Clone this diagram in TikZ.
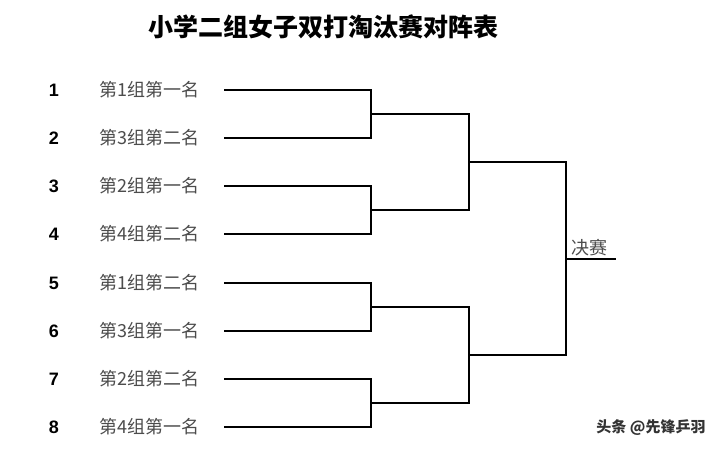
\documentclass[tikz,border=0pt]{standalone}
\usepackage{fontspec}
\newfontfamily\cjk{Noto Sans CJK SC}
\newfontfamily\numfont{Liberation Sans}
\begin{document}
\begin{tikzpicture}[x=1pt, y=-1pt, line width=1.1pt, every node/.style={inner sep=0pt}]
\useasboundingbox (0,0) rectangle (715,451);
\node (title) at (323,27) {\cjk\bfseries\fontsize{25}{25}\selectfont 小学二组女子双打淘汰赛对阵表};

% entrants
\foreach \n/\y/\t in {1/90/第1组第一名, 2/138/第3组第二名, 3/186/第2组第一名, 4/234/第4组第二名,
                      5/283/第1组第二名, 6/331/第3组第一名, 7/379/第2组第二名, 8/427/第4组第一名} {
  \node (num\n) at (54,\y) {\numfont\bfseries\fontsize{18}{18}\selectfont \n};
  \node (team\n) [anchor=west, text=black!70] at (99,\y) {\cjk\fontsize{18}{18}\selectfont \t};
  \coordinate (e\n) at (224,\y);
}

% junctions
\coordinate (q1) at (371,114);
\coordinate (q2) at (371,210);
\coordinate (q3) at (371,307);
\coordinate (q4) at (371,403);
\coordinate (h1) at (469,162);
\coordinate (h2) at (469,355);
\coordinate (fin) at (566,259);
\coordinate (champ) at (616,259);

\draw (e1) -| (q1) |- (e2);
\draw (e3) -| (q2) |- (e4);
\draw (e5) -| (q3) |- (e6);
\draw (e7) -| (q4) |- (e8);
\draw (q1) -| (h1) |- (q2);
\draw (q3) -| (h2) |- (q4);
\draw (h1) -| (fin) |- (h2);
\draw (fin) -- (champ);
\node (final) [anchor=south west, text=black!70] at ([xshift=5pt,yshift=2pt]fin) {\cjk\fontsize{18}{18}\selectfont 决赛};

\node (mark) [text=black!80] at (651,428) {\cjk\bfseries\fontsize{15}{15}\selectfont 头条 @先锋乒羽};
\end{tikzpicture}
\end{document}
